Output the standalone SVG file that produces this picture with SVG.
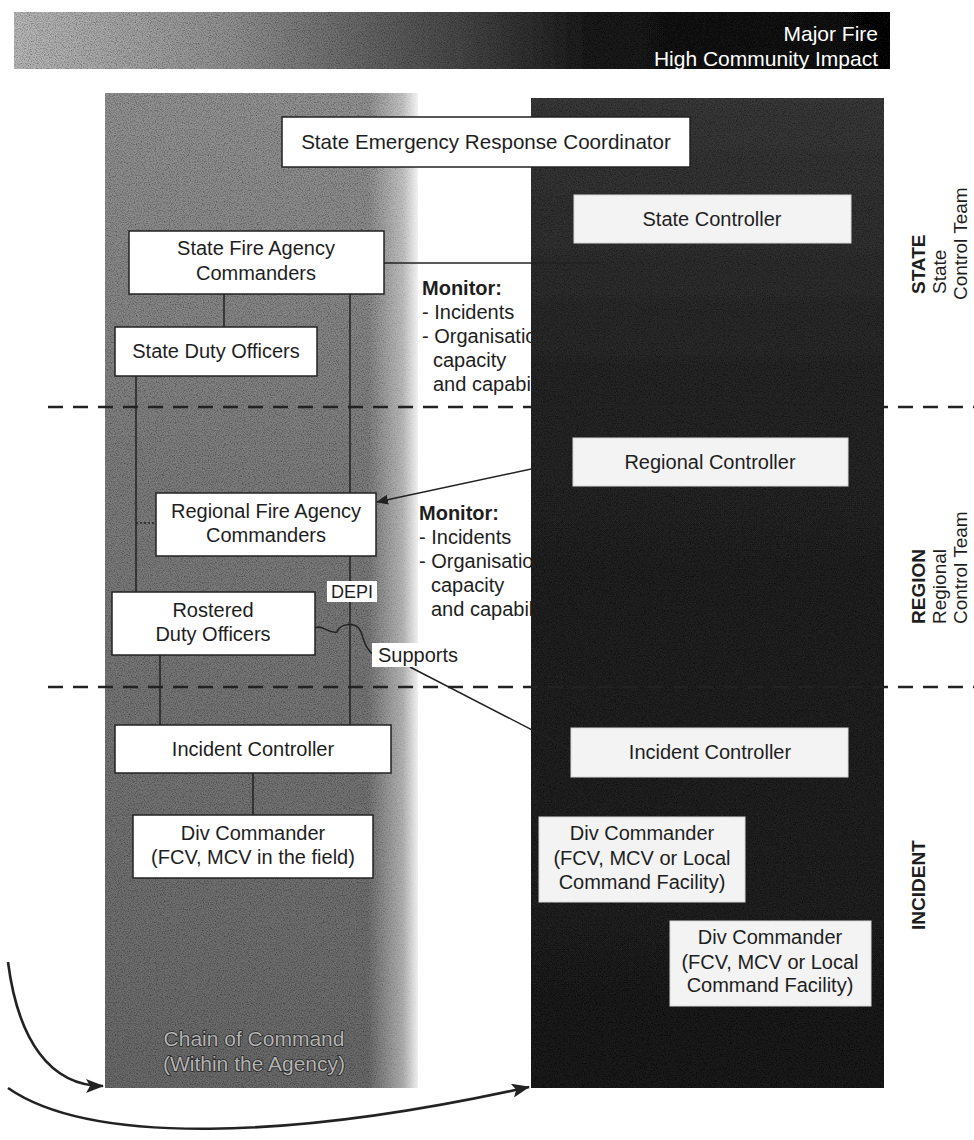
<svg xmlns="http://www.w3.org/2000/svg" width="974" height="1140" viewBox="0 0 974 1140">
<style>
.t{font-family:"Liberation Sans",Arial,sans-serif;font-size:20px;fill:#1e1e1e}
.c{text-anchor:middle}
.b{font-weight:bold}
.box{fill:#ffffff;stroke:#222;stroke-width:1.5}
.rbox{fill:#f3f3f3;stroke:#d8d8d8;stroke-width:1}
.lab{fill:#ffffff;stroke:none}
.ln{stroke:#222;stroke-width:1.5;fill:none}
.dash{stroke:#222;stroke-width:2.6;stroke-dasharray:15 10;fill:none}
.side{font-family:"Liberation Sans",Arial,sans-serif;font-size:19px;fill:#1e1e1e}
.emb{font-family:"Liberation Sans",Arial,sans-serif;font-size:21px;fill:#b4b4b4;stroke:#262626;stroke-width:1.6;paint-order:stroke;text-anchor:middle}
</style>
<defs>
<linearGradient id="gBanner" x1="0" y1="0" x2="1" y2="0">
<stop offset="0" stop-color="#b8b8b8"/>
<stop offset="0.25" stop-color="#909090"/>
<stop offset="0.5" stop-color="#4a4a4a"/>
<stop offset="0.66" stop-color="#1c1c1c"/>
<stop offset="1" stop-color="#101010"/>
</linearGradient>
<linearGradient id="gLeft" x1="0" y1="0" x2="0" y2="1">
<stop offset="0" stop-color="#929292"/>
<stop offset="0.4" stop-color="#7c7c7c"/>
<stop offset="1" stop-color="#6a6a6a"/>
</linearGradient>
<linearGradient id="gFade" x1="0" y1="0" x2="1" y2="0">
<stop offset="0" stop-color="#ffffff" stop-opacity="0"/>
<stop offset="0.7" stop-color="#ffffff" stop-opacity="0.45"/>
<stop offset="1" stop-color="#ffffff" stop-opacity="0.9"/>
</linearGradient>
<linearGradient id="gRight" x1="0" y1="0" x2="0" y2="1">
<stop offset="0" stop-color="#3a3a3a"/>
<stop offset="0.3" stop-color="#262626"/>
<stop offset="1" stop-color="#1e1e1e"/>
</linearGradient>
<filter id="grain" x="0" y="0" width="100%" height="100%">
<feTurbulence type="fractalNoise" baseFrequency="0.85" numOctaves="2" seed="7" result="noise"/>
<feColorMatrix in="noise" type="matrix" values="0 0 0 0 0  0 0 0 0 0  0 0 0 0 0  1.4 0 0 0 -0.55" result="dots"/>
<feComposite in="dots" in2="SourceGraphic" operator="in" result="d2"/>
<feMerge><feMergeNode in="SourceGraphic"/><feMergeNode in="d2"/></feMerge>
</filter>
<marker id="ah" markerWidth="12" markerHeight="10" refX="11" refY="5" orient="auto" markerUnits="userSpaceOnUse">
<path d="M0,0 L12,5 L0,10 z" fill="#222"/>
</marker>
<marker id="ahBig" markerWidth="18" markerHeight="14" refX="17" refY="7" orient="auto" markerUnits="userSpaceOnUse">
<path d="M0,0 L18,7 L0,14 L4,7 z" fill="#222"/>
</marker>
</defs>

<g id="banner">
<rect x="14" y="12" width="876" height="57" fill="url(#gBanner)" filter="url(#grain)"/>
<text class="t" x="878" y="41" text-anchor="end" style="fill:#ffffff;font-size:21px">Major Fire</text>
<text class="t" x="878" y="66" text-anchor="end" style="fill:#ffffff;font-size:21px">High Community Impact</text>
</g>

<g id="left-column">
<rect x="105" y="93" width="313" height="995" fill="url(#gLeft)" filter="url(#grain)"/>
<rect x="368" y="93" width="50" height="995" fill="url(#gFade)"/>
<text class="emb" x="254" y="1046">Chain of Command</text>
<text class="emb" x="254" y="1071">(Within the Agency)</text>
</g>

<g id="monitor-state">
<text class="t b" x="422" y="295">Monitor:</text>
<text class="t" x="422" y="319">- Incidents</text>
<text class="t" x="422" y="343">- Organisation</text>
<text class="t" x="433" y="367">capacity</text>
<text class="t" x="433" y="391">and capability</text>
</g>
<g id="monitor-region">
<text class="t b" x="419" y="520">Monitor:</text>
<text class="t" x="419" y="544">- Incidents</text>
<text class="t" x="419" y="568">- Organisation</text>
<text class="t" x="431" y="592">capacity</text>
<text class="t" x="431" y="616">and capability</text>
</g>

<g id="right-column">
<rect x="531" y="98" width="353" height="990" fill="url(#gRight)" filter="url(#grain)"/>
</g>

<g id="dividers">
<line class="dash" x1="48" y1="407" x2="974" y2="407"/>
<line class="dash" x1="48" y1="687" x2="974" y2="687"/>
</g>

<g id="connectors">
<line class="ln" x1="224" y1="294" x2="224" y2="327"/>
<line class="ln" x1="350" y1="294" x2="350" y2="493"/>
<line class="ln" x1="350" y1="556" x2="350" y2="725"/>
<line class="ln" x1="136" y1="376" x2="136" y2="592"/>
<line class="ln" x1="136" y1="523" x2="156" y2="523" stroke-dasharray="2 2"/>
<line class="ln" x1="160" y1="655" x2="160" y2="725"/>
<line class="ln" x1="253" y1="773" x2="253" y2="815"/>
<line class="ln" x1="384" y1="263" x2="601" y2="263"/>
<line class="ln" x1="573" y1="460" x2="377" y2="502" marker-end="url(#ah)"/>
<line class="ln" x1="410" y1="667" x2="571" y2="750"/>
<path class="ln" d="M315,628 C322,624 328,634 337,632 C340,623 357,621 361,632 C364,641 366,650 374,655"/>
<path d="M8,962 C18,1040 50,1086 103,1086" fill="none" stroke="#222" stroke-width="2.6" marker-end="url(#ahBig)"/>
<path d="M8,1088 C90,1145 290,1140 529,1087" fill="none" stroke="#222" stroke-width="2.6" marker-end="url(#ahBig)"/>
</g>

<g id="serc"><rect class="box" x="282" y="117" width="408" height="50"/><text class="t c" x="486" y="149" style="font-size:20.6px">State Emergency Response Coordinator</text></g>
<g id="state-controller"><rect class="rbox" x="574" y="195" width="277" height="48"/><text class="t c" x="712" y="226">State Controller</text></g>
<g id="state-fire-agency-commanders"><rect class="box" x="129" y="231" width="255" height="63"/><text class="t c" x="256" y="255">State Fire Agency</text><text class="t c" x="256" y="280">Commanders</text></g>
<g id="state-duty-officers"><rect class="box" x="115" y="327" width="202" height="49"/><text class="t c" x="216" y="358">State Duty Officers</text></g>
<g id="regional-controller"><rect class="rbox" x="573" y="438" width="275" height="48"/><text class="t c" x="710" y="469">Regional Controller</text></g>
<g id="regional-fire-agency-commanders"><rect class="box" x="156" y="493" width="220" height="63"/><text class="t c" x="266" y="518">Regional Fire Agency</text><text class="t c" x="266" y="542">Commanders</text></g>
<g id="depi"><rect class="lab" x="327" y="581" width="50" height="21"/><text class="t c" x="352" y="598" style="font-size:18px">DEPI</text></g>
<g id="rostered-duty-officers"><rect class="box" x="112" y="592" width="203" height="63"/><text class="t c" x="213" y="617">Rostered</text><text class="t c" x="213" y="641">Duty Officers</text></g>
<g id="supports"><rect class="lab" x="372" y="643" width="87" height="24"/><text class="t" x="378" y="662">Supports</text></g>
<g id="incident-controller-agency"><rect class="box" x="115" y="725" width="276" height="48"/><text class="t c" x="253" y="756">Incident Controller</text></g>
<g id="div-commander-agency"><rect class="box" x="133" y="815" width="240" height="63"/><text class="t c" x="253" y="840">Div Commander</text><text class="t c" x="253" y="864">(FCV, MCV in the field)</text></g>
<g id="incident-controller-control"><rect class="rbox" x="571" y="728" width="277" height="49"/><text class="t c" x="710" y="759">Incident Controller</text></g>
<g id="div-commander-1"><rect class="rbox" x="539" y="817" width="206" height="85"/><text class="t c" x="642" y="840">Div Commander</text><text class="t c" x="642" y="865">(FCV, MCV or Local</text><text class="t c" x="642" y="889">Command Facility)</text></g>
<g id="div-commander-2"><rect class="rbox" x="670" y="921" width="201" height="85"/><text class="t c" x="770" y="944">Div Commander</text><text class="t c" x="770" y="969">(FCV, MCV or Local</text><text class="t c" x="770" y="992">Command Facility)</text></g>

<g id="level-labels">
<text class="side b" transform="translate(925,294) rotate(-90)">STATE</text>
<text class="side" transform="translate(946,294) rotate(-90)">State</text>
<text class="side" transform="translate(967,300) rotate(-90)">Control Team</text>
<text class="side b" transform="translate(925,624) rotate(-90)">REGION</text>
<text class="side" transform="translate(946,624) rotate(-90)">Regional</text>
<text class="side" transform="translate(967,624) rotate(-90)">Control Team</text>
<text class="side b" transform="translate(925,930) rotate(-90)">INCIDENT</text>
</g>
</svg>
